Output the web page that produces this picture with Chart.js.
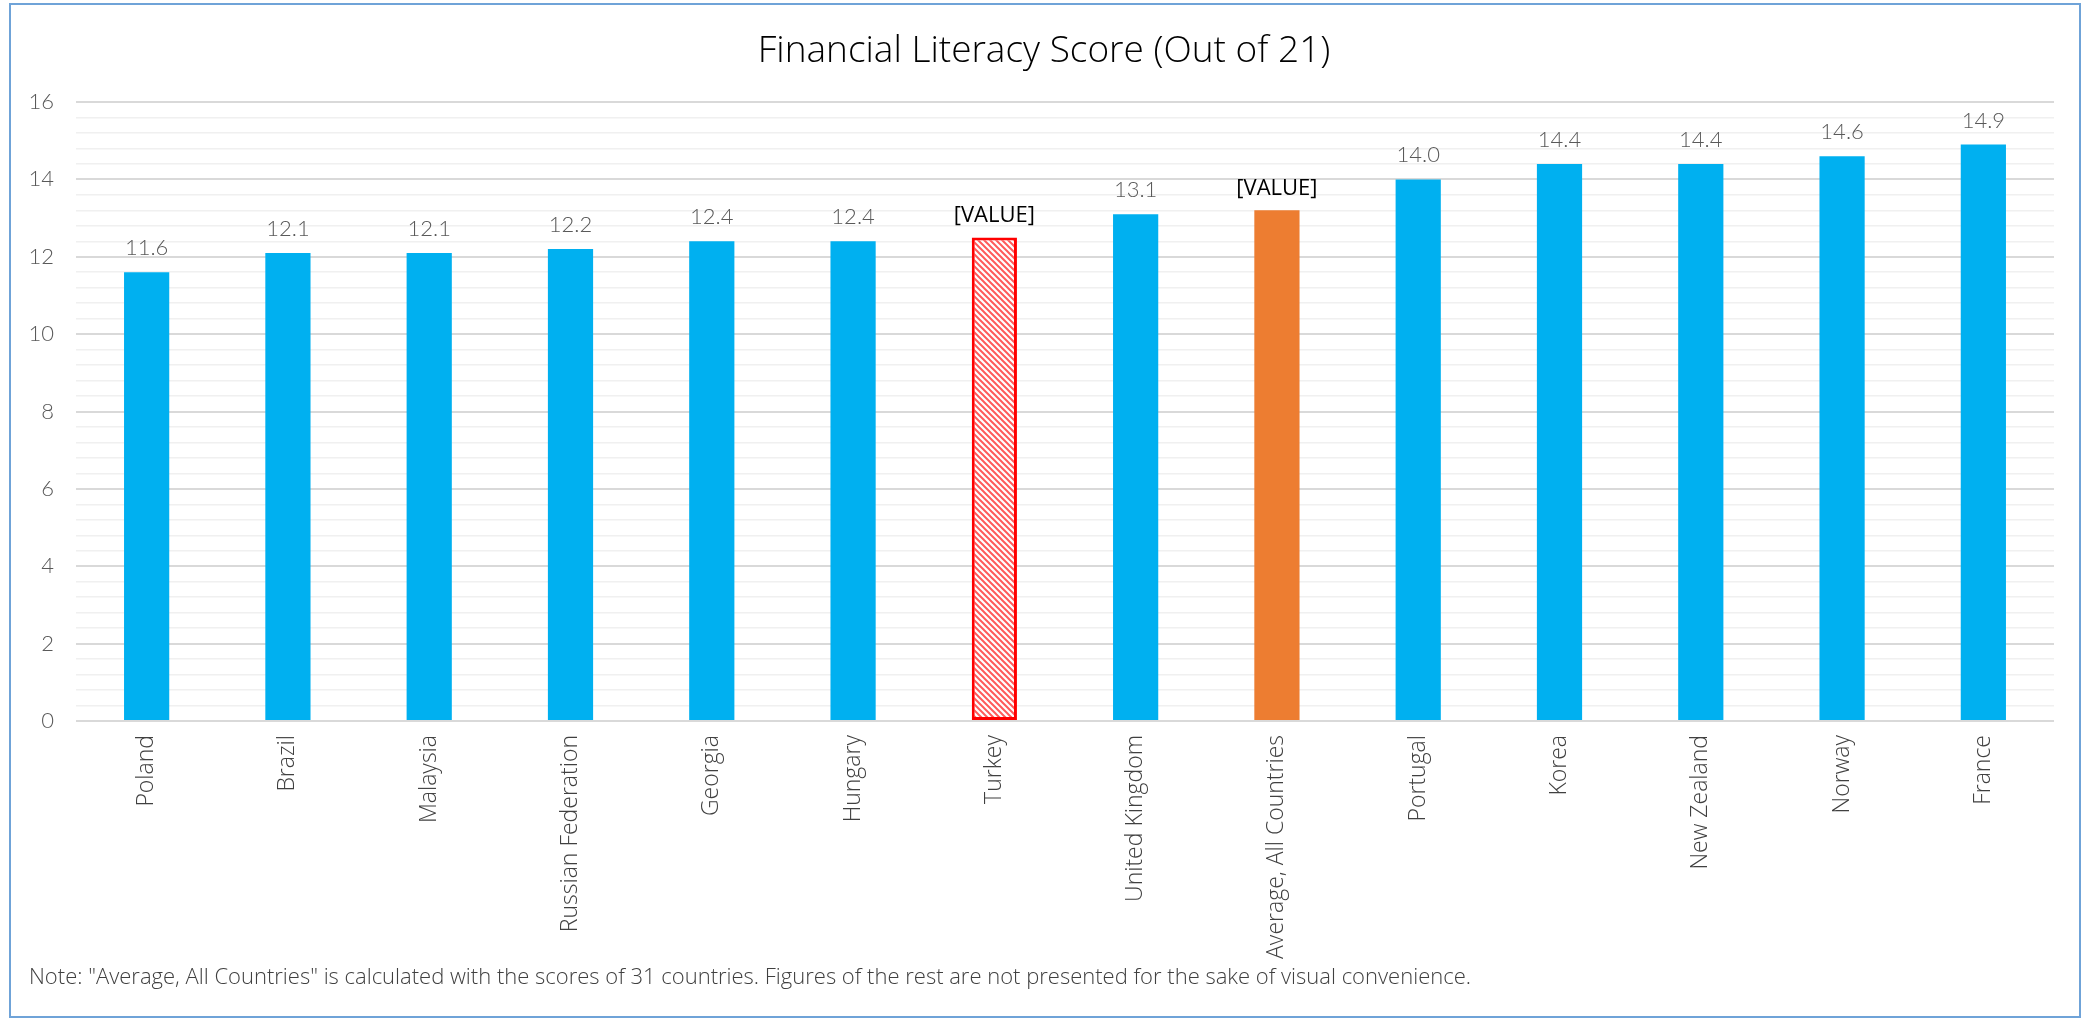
<!DOCTYPE html>
<html><head><meta charset="utf-8">
<script src="https://cdn.jsdelivr.net/npm/chart.js@4.4.0/dist/chart.umd.min.js"></script>
<style>html,body{margin:0;padding:0;background:#fff;overflow:hidden}</style>
</head><body>
<canvas id="c" width="2082" height="1020"></canvas>
<script>
const categories = ['Poland','Brazil','Malaysia','Russian Federation','Georgia','Hungary','Turkey','United Kingdom','Average, All Countries','Portugal','Korea','New Zealand','Norway','France'];
const scores = [11.6,12.1,12.1,12.2,12.4,12.4,12.5,13.1,13.2,14.0,14.4,14.4,14.6,14.9];
const placeholderCategories = ['Turkey','Average, All Countries'];
const placeholderText = '[VALUE]';
const highlightCategory = 'Turkey';
const averageCategory = 'Average, All Countries';
const yTickLabels = [0,2,4,6,8,10,12,14,16];
const titleText = 'Financial Literacy Score (Out of 21)';
const noteText = 'Note: "Average, All Countries" is calculated with the scores of 31 countries. Figures of the rest are not presented for the sake of visual convenience.';

const BLUE = '#00b0f0', ORANGE = '#ed7d31', RED = '#ff0000';
const ctx = document.getElementById('c').getContext('2d');

function makeHatch() {
  const p = document.createElement('canvas');
  p.width = 6; p.height = 6;
  const g = p.getContext('2d');
  g.fillStyle = '#ffffff'; g.fillRect(0, 0, 6, 6);
  g.strokeStyle = '#ff5a5a'; g.lineWidth = 2;
  g.beginPath();
  g.moveTo(-2, -2); g.lineTo(8, 8);
  g.moveTo(-2, 4); g.lineTo(2, 8);
  g.moveTo(4, -2); g.lineTo(8, 2);
  g.stroke();
  return ctx.createPattern(p, 'repeat');
}
const hatch = makeHatch();

const fills = categories.map(c => c === highlightCategory ? hatch : (c === averageCategory ? ORANGE : BLUE));
const borders = categories.map(c => c === highlightCategory ? RED : 'rgba(0,0,0,0)');
const borderWidths = categories.map(c => c === highlightCategory ? 3 : 0);

const decorPlugin = {
  id: 'decor',
  beforeDraw(chart) {
    const c = chart.ctx;
    c.save();
    c.fillStyle = '#fff';
    c.fillRect(0, 0, chart.width, chart.height);
    c.restore();
  },
  afterDraw(chart) {
    const c = chart.ctx;
    c.save();
    c.strokeStyle = '#6fa3d8';
    c.lineWidth = 2;
    c.strokeRect(10, 4, 2070, 1013);
    c.fillStyle = '#000';
    c.font = '300 37px "Open Sans"';
    c.textAlign = 'center';
    c.textBaseline = 'alphabetic';
    c.fillText(titleText, 1044, 62);
    c.fillStyle = '#404040';
    c.font = '300 22px "Open Sans"';
    c.textAlign = 'left';
    c.fillText(noteText, 29, 984);
    c.restore();
  },
  afterDatasetsDraw(chart) {
    const c = chart.ctx;
    const meta = chart.getDatasetMeta(0);
    c.save();
    c.textAlign = 'center';
    c.textBaseline = 'alphabetic';
    meta.data.forEach((bar, i) => {
      const isPh = placeholderCategories.includes(categories[i]);
      if (isPh) {
        c.font = '400 22px "Open Sans"';
        c.fillStyle = '#000';
        c.fillText(placeholderText, bar.x, bar.y - 15);
      } else {
        c.font = '300 22px "Lato"';
        c.fillStyle = '#595959';
        c.fillText(scores[i].toFixed(1), bar.x, bar.y - 17);
      }
    });
    c.restore();
  }
};

new Chart(ctx, {
  type: 'bar',
  data: {
    labels: categories,
    datasets: [{
      data: scores,
      backgroundColor: fills,
      borderColor: borders,
      borderWidth: borderWidths,
      borderSkipped: false,
      barPercentage: 0.32,
      categoryPercentage: 1.0
    }]
  },
  options: {
    responsive: false,
    animation: false,
    events: [],
    layout: { padding: { top: 102, left: 0, right: 28, bottom: 0 } },
    plugins: { legend: { display: false }, title: { display: false }, tooltip: { enabled: false } },
    scales: {
      x: {
        grid: { display: false, drawTicks: false },
        border: { display: false },
        ticks: {
          minRotation: 90, maxRotation: 90, autoSkip: false, padding: 14,
          color: '#404040', font: { family: 'Open Sans', weight: '300', size: 23 }
        },
        afterFit(scale) { scale.height = 299; }
      },
      y: {
        min: 0, max: 16,
        border: { display: false },
        grid: {
          drawTicks: false,
          color(ctx) {
            const v = ctx.tick ? ctx.tick.value : 0;
            const r = Math.round(v);
            const major = Math.abs(v - r) < 1e-6 && yTickLabels.includes(r);
            return major ? '#d9d9d9' : '#f0f0f0';
          },
          lineWidth(ctx) {
            const v = ctx.tick ? ctx.tick.value : 0;
            const r = Math.round(v);
            return (Math.abs(v - r) < 1e-6 && yTickLabels.includes(r)) ? 2 : 1.5;
          }
        },
        ticks: {
          stepSize: 0.4, autoSkip: false, padding: 22,
          color: '#595959', font: { family: 'Lato', weight: '300', size: 22 },
          callback(v) {
            const r = Math.round(v);
            return (Math.abs(v - r) < 1e-6 && yTickLabels.includes(r)) ? String(r) : '';
          }
        },
        afterFit(scale) { scale.width = 76; }
      }
    }
  },
  plugins: [decorPlugin]
});
</script>
</body></html>
